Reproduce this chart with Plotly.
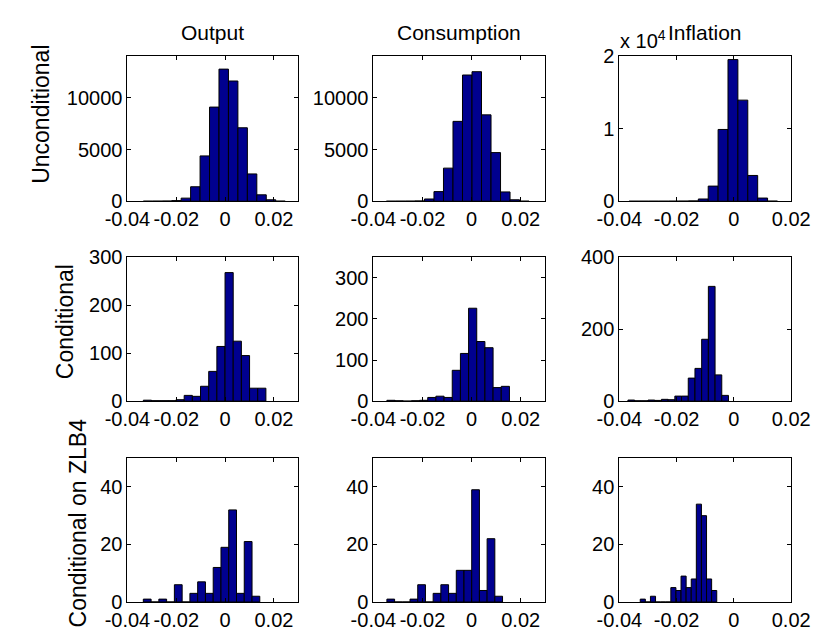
import numpy as np
import plotly.graph_objects as go

# ---------------- data ----------------
col_titles = ["Output", "Consumption", "Inflation"]
row_titles = ["Unconditional", "Conditional", "Conditional on ZLB4"]

# histogram counts (15 bins each, MATLAB hist(x,15) style) and data min/max
out_uncond = [5, 10, 20, 60, 300, 1400, 4380, 9100, 12770, 11620, 7100, 2640, 620, 140, 10]
out_uncond_rng = [-0.0335, 0.0246]
cons_uncond = [3, 5, 10, 30, 218, 930, 3200, 7720, 12200, 12520, 8350, 4700, 900, 140, 5]
cons_uncond_rng = [-0.0347, 0.0234]
infl_uncond = [2, 2, 3, 5, 10, 20, 50, 310, 2090, 9910, 19560, 13960, 3560, 440, 20]
infl_uncond_rng = [-0.0366, 0.0152]

out_cond = [2, 1, 1, 1, 3, 12, 10, 31, 62, 114, 268, 125, 95, 27, 27]
out_cond_rng = [-0.0335, 0.0167]
cons_cond = [2, 1, 0, 1, 2, 9, 12, 9, 75, 116, 226, 145, 130, 33, 36]
cons_cond_rng = [-0.0345, 0.0154]
infl_cond = [3, 1, 1, 3, 2, 5, 4, 14, 14, 64, 91, 172, 319, 73, 16]
infl_cond_rng = [-0.0370, -0.0019]

out_zlb = [1, 0, 1, 0, 6, 0, 3, 7, 3, 12, 19, 32, 3, 21, 2]
out_zlb_rng = [-0.0335, 0.0142]
cons_zlb = [1, 0, 0, 1, 6, 0, 3, 6, 3, 11, 11, 39, 4, 22, 2]
cons_zlb_rng = [-0.0345, 0.0126]
infl_zlb = [1, 0, 2, 0, 0, 0, 5, 4, 9, 5, 8, 34, 30, 8, 4]
infl_zlb_rng = [-0.0327, -0.0060]

x_ranges = [[-0.04, 0.03], [-0.04, 0.03], [-0.04, 0.02]]
x_tickvals = [-0.04, -0.02, 0, 0.02]
x_ticktext = ["-0.04", "-0.02", "0", "0.02"]

y_ranges = [[0, 14000], [0, 14000], [0, 20000],
            [0, 300], [0, 350], [0, 400],
            [0, 50], [0, 50], [0, 50]]
y_tickvals = [[0, 5000, 10000], [0, 5000, 10000], [0, 10000, 20000],
              [0, 100, 200, 300], [0, 100, 200, 300], [0, 200, 400],
              [0, 20, 40], [0, 20, 40], [0, 20, 40]]
y_ticktext = [["0", "5000", "10000"], ["0", "5000", "10000"], ["0", "1", "2"],
              ["0", "100", "200", "300"], ["0", "100", "200", "300"], ["0", "200", "400"],
              ["0", "20", "40"], ["0", "20", "40"], ["0", "20", "40"]]

panels = [(out_uncond, out_uncond_rng), (cons_uncond, cons_uncond_rng), (infl_uncond, infl_uncond_rng),
          (out_cond, out_cond_rng), (cons_cond, cons_cond_rng), (infl_cond, infl_cond_rng),
          (out_zlb, out_zlb_rng), (cons_zlb, cons_zlb_rng), (infl_zlb, infl_zlb_rng)]

# ---------------- layout geometry (pixels) ----------------
W, H = 833, 641
col_px = [(110, 290), (369, 550), (628, 809)]
row_px = [(47, 197), (255, 404), (463, 612)]

FONT = "Liberation Sans, Arial, Helvetica, sans-serif"
BAR = "rgb(0,0,143)"
TICK_SIZE = 20
TITLE_SIZE = 21
ROW_SIZE = 23

fig = go.Figure()
layout = dict(width=W, height=H, margin=dict(l=0, r=0, t=0, b=0),
              paper_bgcolor="white", plot_bgcolor="white", showlegend=False,
              font=dict(family=FONT, size=TICK_SIZE, color="black"))

for i, (counts, rng) in enumerate(panels):
    r, c = divmod(i, 3)
    n = len(counts)
    edges = np.linspace(rng[0], rng[1], n + 1)
    centers = (edges[:-1] + edges[1:]) / 2
    bw = edges[1] - edges[0]
    xa = "x" if i == 0 else f"x{i+1}"
    ya = "y" if i == 0 else f"y{i+1}"
    fig.add_trace(go.Bar(x=centers, y=counts, width=bw, xaxis=xa, yaxis=ya,
                         marker=dict(color=BAR, line=dict(color="black", width=1)),
                         hoverinfo="x+y"))
    x0, x1 = col_px[c]
    y0, y1 = row_px[r]
    common = dict(showgrid=False, zeroline=False, showline=True, linecolor="black",
                  linewidth=1, mirror="ticks", ticks="inside", ticklen=4,
                  tickcolor="black", tickfont=dict(family=FONT, size=TICK_SIZE, color="black"))
    layout["xaxis" if i == 0 else f"xaxis{i+1}"] = dict(
        domain=[x0 / W, x1 / W], anchor=ya, range=x_ranges[c],
        tickvals=x_tickvals, ticktext=x_ticktext, tickangle=0, **common)
    layout["yaxis" if i == 0 else f"yaxis{i+1}"] = dict(
        domain=[1 - y1 / H, 1 - y0 / H], anchor=xa, range=y_ranges[i],
        tickvals=y_tickvals[i], ticktext=y_ticktext[i], **common)

annotations = []
for c, t in enumerate(col_titles):
    xc = (col_px[c][0] + col_px[c][1]) / 2
    annotations.append(dict(text=t, x=xc / W, y=1 - 22 / H, xref="paper", yref="paper",
                            showarrow=False, xanchor="center", yanchor="middle",
                            font=dict(family=FONT, size=TITLE_SIZE, color="black")))
annotations.append(dict(text="x 10<sup>4</sup>", x=627 / W, y=1 - 29 / H, xref="paper", yref="paper",
                        showarrow=False, xanchor="left", yanchor="middle",
                        font=dict(family=FONT, size=TICK_SIZE, color="black")))
row_lab_pos = [(19.5, 107), (44.5, 322), (57.5, 530)]
for (px, py), t in zip(row_lab_pos, row_titles):
    annotations.append(dict(text=t, x=px / W, y=1 - py / H, xref="paper", yref="paper",
                            showarrow=False, xanchor="center", yanchor="middle", textangle=-90,
                            font=dict(family=FONT, size=ROW_SIZE, color="black")))
layout["annotations"] = annotations

fig.update_layout(**layout)
fig.write_html("out.html",
               post_script="document.body.style.margin='0';document.body.style.overflow='hidden';")
